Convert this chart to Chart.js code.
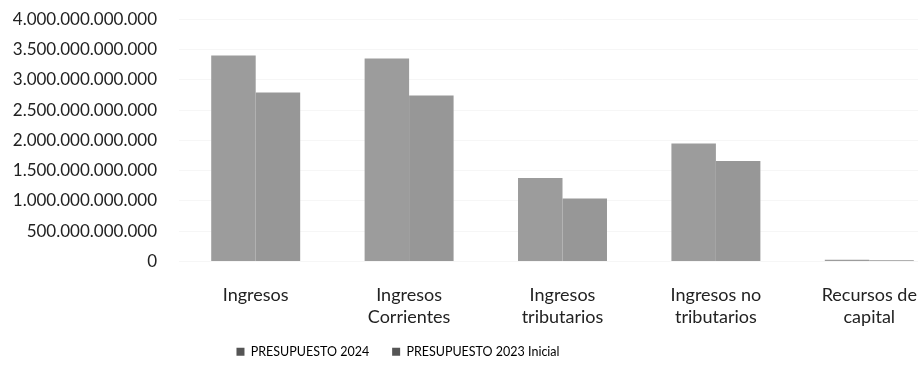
<!DOCTYPE html>
<html>
<head>
<meta charset="utf-8">
<script src="https://cdn.jsdelivr.net/npm/chart.js@4.4.1/dist/chart.umd.min.js"></script>
<style>
html,body{margin:0;padding:0;background:#fff;overflow:hidden;}
/* el grafico original esta recortado a la derecha y arriba */
#wrap{width:950px;height:398px;margin-top:-13px;position:relative;}
</style>
</head>
<body>
<div id="wrap"><canvas id="presu"></canvas></div>
<script>
// datos
const categorias = [
  'Ingresos',
  ['Ingresos', 'Corrientes'],
  ['Ingresos', 'tributarios'],
  ['Ingresos no', 'tributarios'],
  ['Recursos de', 'capital']
];
const presu2024 = [3400000000000, 3350000000000, 1380000000000, 1950000000000, 30000000000];
const presu2023 = [2790000000000, 2740000000000, 1040000000000, 1660000000000, 20000000000];
const tickMax = 4000000000000;
const tickStep = 500000000000;

const fuente = "Lato, 'Open Sans', sans-serif";

function formatoPuntos(v){
  return v.toString().replace(/\B(?=(\d{3})+(?!\d))/g, '.');
}

// corre la leyenda a la izquierda y un poco arriba como en la imagen
const moverLeyenda = {
  id: 'moverLeyenda',
  afterLayout(chart){
    let lg = chart.legend;
    if(!lg) return;
    lg.left -= 79;
    lg.right -= 79;
    lg.top -= 17;
    lg.bottom -= 17;
  }
};

let ctx = document.getElementById('presu').getContext('2d');
let grafico = new Chart(ctx, {
  type: 'bar',
  data: {
    labels: categorias,
    datasets: [{
      label: 'PRESUPUESTO 2024',
      data: presu2024,
      backgroundColor: '#9c9c9c',
      borderWidth: 0
    }, {
      label: 'PRESUPUESTO 2023 Inicial',
      data: presu2023,
      backgroundColor: '#979797',
      borderWidth: 0
    }]
  },
  options: {
    responsive: true,
    maintainAspectRatio: false,
    animation: false,
    layout: {
      padding: { left: 8, right: 4, top: 0, bottom: 0 }
    },
    plugins: {
      legend: {
        position: 'bottom',
        labels: {
          boxWidth: 8,
          boxHeight: 8,
          padding: 23,
          color: '#222',
          font: { family: fuente, size: 12.5 },
          generateLabels(chart){
            return chart.data.datasets.map((d, i) => ({
              text: d.label,
              fillStyle: '#555',
              strokeStyle: '#555',
              lineWidth: 0,
              datasetIndex: i
            }));
          }
        }
      },
      tooltip: { enabled: false }
    },
    datasets: {
      bar: { categoryPercentage: 0.58, barPercentage: 1.0 }
    },
    scales: {
      x: {
        grid: { display: false },
        border: { display: false },
        afterFit: s => { s.height = 78; },
        ticks: {
          padding: 15,
          color: '#222',
          maxRotation: 0,
          autoSkip: false,
          font: { family: fuente, size: 18, lineHeight: 1.22 }
        }
      },
      y: {
        min: 0,
        max: tickMax,
        grid: { color: 'rgba(0,0,0,0.035)', drawTicks: false },
        border: { display: false },
        afterFit: s => { s.width = 171; },
        ticks: {
          stepSize: tickStep,
          padding: 22,
          color: '#222',
          font: { family: fuente, size: 17 },
          callback: v => formatoPuntos(v)
        }
      }
    }
  },
  plugins: [moverLeyenda]
});
</script>
</body>
</html>
